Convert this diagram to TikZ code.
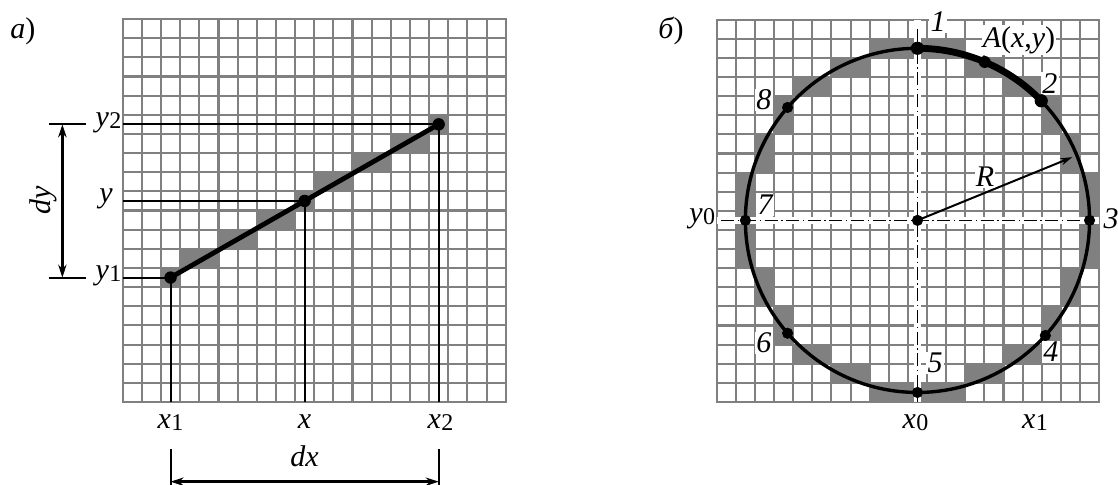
\documentclass[tikz,border=0pt]{standalone}
\usepackage{fontspec}
\setmainfont{Liberation Serif}
\usetikzlibrary{arrows.meta,calc}
\definecolor{gridgray}{RGB}{128,128,128}
\newcommand\sbs[1]{\kern0.2pt\raisebox{-1pt}{\fontsize{12}{14}\selectfont\upshape #1}}
\newcommand\iv[1]{{\itshape #1}}
\begin{document}
\begin{tikzpicture}[
  lab/.style={font=\fontsize{15}{18}\selectfont, inner sep=0.6pt},
  wlab/.style={lab, fill=white},
  gridln/.style={draw=gridgray, line width=1.05pt, line cap=rect},
  projline/.style={line width=1pt},
  dot/.style={circle, fill=black, inner sep=0pt, minimum size=5.6pt},
  bigdot/.style={dot, minimum size=6.6pt},
  ldot/.style={dot, minimum size=6.2pt},
  axisln/.style={line width=0.8pt, dash pattern=on 6.5pt off 1.8pt on 0.7pt off 1.8pt},
  halo/.style={draw=white, line width=3.5pt},
  dimarrow/.style={line width=1.2pt, {Stealth[length=6.5pt,width=4.2pt]}-{Stealth[length=6.5pt,width=4.2pt]}},
  dimtick/.style={line width=1pt},
]
\useasboundingbox (0,0) rectangle (559pt,-242pt);

% ---------------- left picture ----------------
\begin{scope}[shift={(61.35pt,-201pt)}, x=9.575pt, y=9.575pt]
  \foreach \c/\r in {2/6,3/7,4/7,5/8,6/8,7/9,8/9,9/10,10/11,11/11,12/12,13/12,14/13,15/13,16/14}
    \fill[gridgray] (\c,\r) rectangle ++(1,1);
  \foreach \i in {0,...,20} {
    \draw[gridln] (\i,0) -- (\i,20);
    \draw[gridln] (0,\i) -- (20,\i);
  }
  \coordinate (P1) at (2.5,6.5);
  \coordinate (PM) at (9.5,10.5);
  \coordinate (P2) at (16.5,14.5);
  \coordinate (L1) at (0,6.5);
  \coordinate (LM) at (0,10.5);
  \coordinate (L2) at (0,14.5);
  \coordinate (B1) at (2.5,0);
  \coordinate (BM) at (9.5,0);
  \coordinate (B2) at (16.5,0);
  \draw[projline] (L1) -- (P1) -- (B1);
  \draw[projline] (LM) -- (PM) -- (BM);
  \draw[projline] (L2) -- (P2) -- (B2);
  \draw[line width=2.4pt] (P1) -- (P2);
  \node[ldot] (d1) at (P1) {};
  \node[ldot] (dm) at (PM) {};
  \node[ldot] (d2) at (P2) {};

  % dy dimension
  \coordinate (DYa) at (-3.15,14.5);
  \coordinate (DYb) at (-3.15,6.5);
  \coordinate (T2a) at (-3.85,14.5);
  \coordinate (T2b) at (-1.92,14.5);
  \coordinate (T1a) at (-3.85,6.5);
  \coordinate (T1b) at (-1.92,6.5);
  \draw[dimtick] (T2a) -- (T2b);
  \draw[dimtick] (T1a) -- (T1b);
  \draw[dimarrow] (DYa) -- (DYb);
  \node[lab, rotate=90] (ldy) at (-4.15,10.55) {\iv{dy}};

  % dx dimension
  \coordinate (DXa) at (2.5,-4.16);
  \coordinate (DXb) at (16.5,-4.16);
  \coordinate (U1a) at (2.5,-2.45);
  \coordinate (U1b) at (2.5,-4.4);
  \coordinate (U2a) at (16.5,-2.45);
  \coordinate (U2b) at (16.5,-4.4);
  \draw[dimtick] (U1a) -- (U1b);
  \draw[dimtick] (U2a) -- (U2b);
  \draw[dimarrow] (DXa) -- (DXb);
  \node[lab, anchor=base] (ldx) at (9.5,-3.38) {\iv{dx}};

  \node[lab, anchor=base] (ly2) at (-0.74,14.4) {\iv{y}\sbs{2}};
  \node[lab, anchor=base] (lym) at (-0.87,10.4) {\iv{y}};
  \node[lab, anchor=base] (ly1) at (-0.74,6.4) {\iv{y}\sbs{1}};
  \node[lab, anchor=base] (lx1) at (2.5,-1.36) {\iv{x}\sbs{1}};
  \node[lab, anchor=base] (lxm) at (9.5,-1.36) {\iv{x}};
  \node[lab, anchor=base] (lx2) at (16.6,-1.36) {\iv{x}\sbs{2}};
  \node[lab] (la) at (-5.21,19.35) {\iv{а})};
\end{scope}

% ---------------- right picture ----------------
\begin{scope}[shift={(358.35pt,-201pt)}, x=9.56pt, y=9.56pt]
  \foreach \a/\b in {0/9,1/9,2/9,3/8,4/8,5/7,6/7}
    \foreach \sx in {-1,1}
      \foreach \sy in {-1,1} {
        \fill[gridgray] ({10+\sx*\a},{9+\sy*\b}) rectangle ++(1,1);
        \fill[gridgray] ({10+\sx*\b},{9+\sy*\a}) rectangle ++(1,1);
      }
  \foreach \i in {0,...,20} {
    \draw[gridln] (\i,0) -- (\i,20);
    \draw[gridln] (0,\i) -- (20,\i);
  }
  \coordinate (C) at (10.5,9.5);
  \coordinate (VA) at (10.5,0);
  \coordinate (VB) at (10.5,20);
  \coordinate (VB2) at (10.5,19.5);
  \coordinate (HA) at (0,9.5);
  \coordinate (HB) at (20,9.5);
  \coordinate (HA2) at (0.25,9.5);
  \coordinate (HB2) at (19.8,9.5);
  \draw[halo] (VA) -- (VB);
  \draw[halo] (HA) -- (HB);
  \draw[axisln] (VB2) -- (VA);
  \draw[axisln] (HA2) -- (HB2);

  \coordinate (Q1) at ($(C)+(90:9)$);
  \coordinate (QA) at ($(C)+(67:9)$);
  \coordinate (Q2) at ($(C)+(44:9)$);
  \coordinate (Q3) at ($(C)+(0:9)$);
  \coordinate (Q4) at ($(C)+(318:9)$);
  \coordinate (Q5) at ($(C)+(270:9)$);
  \coordinate (Q6) at ($(C)+(221:9)$);
  \coordinate (Q7) at ($(C)+(180:9)$);
  \coordinate (Q8) at ($(C)+(139:9)$);
  \coordinate (RE) at ($(C)+(22.2:8.75)$);

  \draw[line width=1.7pt] (C) circle[radius=9];
  \draw[line width=3.4pt] (Q1) arc[start angle=90, end angle=44, radius=9];
  \draw[line width=1pt, -{Stealth[length=6pt,width=3.6pt]}] (C) -- (RE);

  \node[bigdot] (n1) at (Q1) {};
  \node[dot, minimum size=6pt] (nA) at (QA) {};
  \node[bigdot] (n2) at (Q2) {};
  \node[dot] (n3) at (Q3) {};
  \node[dot] (n4) at (Q4) {};
  \node[dot] (n5) at (Q5) {};
  \node[dot] (n6) at (Q6) {};
  \node[dot] (n7) at (Q7) {};
  \node[dot] (n8) at (Q8) {};
  \node[dot] (nC) at (C) {};

  \node[wlab] (l1) at (11.58,19.87) {\iv{1}};
  \node[wlab] (lA) at (15.81,18.93) {\iv{A}(\iv{x},\iv{y})};
  \node[wlab] (l2) at (17.43,16.68) {\iv{2}};
  \node[wlab] (l8) at (2.47,15.79) {\iv{8}};
  \node[wlab] (l7) at (2.53,10.30) {\iv{7}};
  \node[lab] (l3) at (20.63,9.57) {\iv{3}};
  \node[wlab] (lR) at (14.03,11.77) {\iv{R}};
  \node[wlab] (l6) at (2.47,3.09) {\iv{6}};
  \node[wlab] (l5) at (11.42,2.04) {\iv{5}};
  \node[wlab] (l4) at (17.48,2.61) {\iv{4}};
  \node[lab, anchor=base east] (ly0) at (0,9.4) {\iv{y}\sbs{0}};
  \node[lab, anchor=base] (lx0) at (10.4,-1.36) {\iv{x}\sbs{0}};
  \node[lab, anchor=base] (lx1r) at (16.65,-1.36) {\iv{x}\sbs{1}};
  \node[lab] (lb) at (-2.39,19.4) {\iv{б})};
\end{scope}
\end{tikzpicture}
\end{document}
